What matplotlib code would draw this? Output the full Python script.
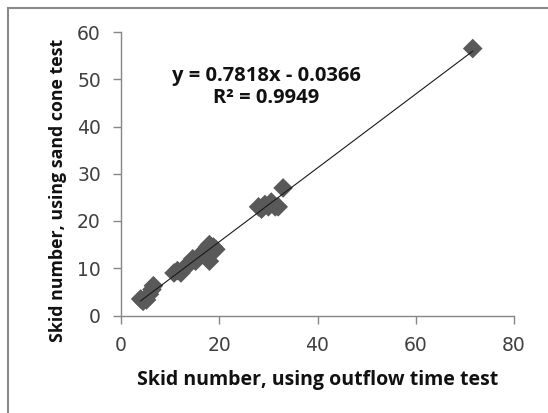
import matplotlib.pyplot as plt
import numpy as np
from matplotlib.patches import Rectangle

# data
outflow_sn = [4.0, 4.5, 5.2, 5.8, 6.3, 6.6, 10.8, 11.5, 12.2, 13.3, 14.0, 14.6,
              15.2, 15.8, 16.5, 17.2, 17.6, 18.0, 18.3, 18.8, 19.3, 18.0,
              28.0, 28.6, 29.3, 30.0, 30.6, 31.4, 32.0, 33.0, 71.6]
sandcone_sn = [3.5, 3.0, 3.3, 4.5, 5.5, 6.3, 9.0, 9.5, 9.0, 10.5, 11.0, 12.0,
               11.5, 12.5, 13.0, 13.5, 14.5, 15.0, 14.0, 14.5, 14.0, 11.5,
               23.0, 22.5, 23.5, 23.0, 24.0, 23.0, 23.0, 27.0, 56.5]
slope, intercept = 0.7818, -0.0366
r2 = 0.9949
x_ticks = [0, 20, 40, 60, 80]
y_ticks = [0, 10, 20, 30, 40, 50, 60]

W, H, dpi = 548, 413, 100
fig = plt.figure(figsize=(W / dpi, H / dpi), dpi=dpi, facecolor='white')

# outer chart frame (runs off right/bottom edge like the source crop)
fig.patches.append(Rectangle((8 / W, -0.1), 1.2, 1 - 8 / H + 0.1, transform=fig.transFigure,
                             fill=False, edgecolor='#8a8a8a', linewidth=1.5))

ax = fig.add_axes([121 / W, (H - 315.5) / H, 393 / W, 283.5 / H])

ax.scatter(outflow_sn, sandcone_sn, marker='D', s=100, color='#595959',
           edgecolors='none', zorder=3)

xs = np.array([min(outflow_sn), max(outflow_sn)])
ax.plot(xs, slope * xs + intercept, color='#1a1a1a', linewidth=0.8, zorder=4)

ax.set_xlim(0, 80)
ax.set_ylim(0, 60)
ax.set_xticks(x_ticks)
ax.set_yticks(y_ticks)

for side in ['top', 'right']:
    ax.spines[side].set_visible(False)
for side in ['left', 'bottom']:
    ax.spines[side].set_color('#868686')
    ax.spines[side].set_linewidth(1.0)

ax.tick_params(direction='out', length=5.5, width=1.0, color='#868686',
               labelsize=13.5, labelcolor='#404040')
ax.tick_params(axis='x', pad=9)
ax.tick_params(axis='y', pad=9)
for lab in ax.get_xticklabels() + ax.get_yticklabels():
    lab.set_family('DejaVu Sans')

ax.set_xlabel('Skid number, using outflow time test', fontsize=14,
              fontweight='bold', family='Open Sans', color='#111111', labelpad=11)
ax.set_ylabel('Skid number, using sand cone test', fontsize=12.8,
              fontweight='bold', family='Open Sans', color='#111111')
# label sits a bit below the middle of the axis in the source
ax.yaxis.set_label_coords(-0.138, 0.443)

sign = '-' if intercept < 0 else '+'
eq = f'y = {slope:.4f}x {sign} {abs(intercept):.4f}\nR² = {r2:.4f}'
ax.text(266 / W, 1 - 87 / H, eq, transform=fig.transFigure, ha='center', va='center',
        fontsize=14.5, fontweight='bold', family='Open Sans', color='#111111',
        linespacing=1.15)

fig.savefig('out.png', dpi=dpi)
